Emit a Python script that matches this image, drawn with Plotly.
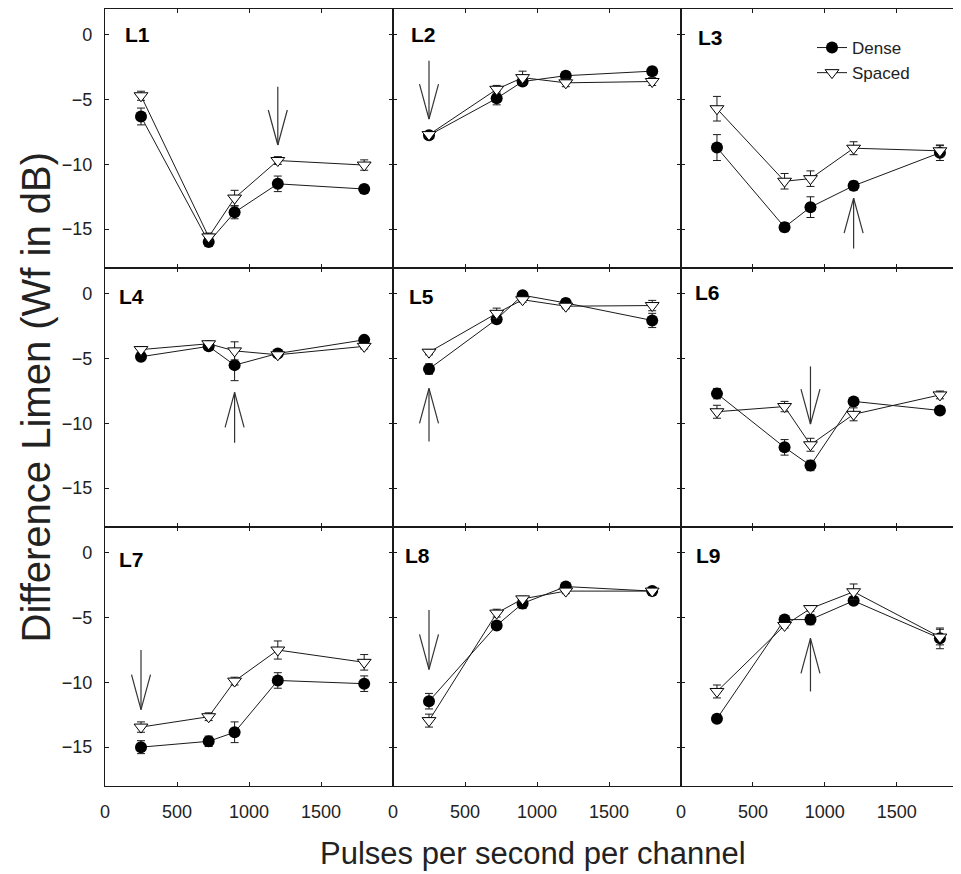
import plotly.graph_objects as go
from plotly.subplots import make_subplots

# ---------------- data ----------------
pps = [250, 720, 900, 1200, 1800]
panel_names = ["L1", "L2", "L3", "L4", "L5", "L6", "L7", "L8", "L9"]

dense_L1 = [-6.3, -16.0, -13.7, -11.5, -11.9]
dense_err_L1 = [0.65, 0.3, 0.5, 0.6, 0.3]
spaced_L1 = [-4.7, -15.6, -12.6, -9.7, -10.05]
spaced_err_L1 = [0.35, 0.3, 0.6, 0.3, 0.4]

dense_L2 = [-7.75, -4.9, -3.6, -3.15, -2.8]
dense_err_L2 = [0.2, 0.5, 0.3, 0.3, 0.3]
spaced_L2 = [-7.7, -4.2, -3.3, -3.7, -3.6]
spaced_err_L2 = [0.2, 0.3, 0.5, 0.3, 0.3]

dense_L3 = [-8.7, -14.85, -13.3, -11.65, -9.1]
dense_err_L3 = [1.0, 0.35, 0.8, 0.35, 0.6]
spaced_L3 = [-5.7, -11.3, -11.1, -8.75, -8.95]
spaced_err_L3 = [0.95, 0.6, 0.6, 0.5, 0.4]

dense_L4 = [-4.85, -4.05, -5.5, -4.6, -3.55]
dense_err_L4 = [0.3, 0.2, 1.2, 0.2, 0.2]
spaced_L4 = [-4.3, -3.85, -4.4, -4.7, -4.05]
spaced_err_L4 = [0.2, 0.2, 0.7, 0.2, 0.2]

dense_L5 = [-5.8, -1.95, -0.1, -0.7, -2.05]
dense_err_L5 = [0.4, 0.3, 0.2, 0.3, 0.55]
spaced_L5 = [-4.5, -1.5, -0.45, -0.95, -0.9]
spaced_err_L5 = [0.2, 0.4, 0.2, 0.2, 0.4]

dense_L6 = [-7.7, -11.85, -13.25, -8.3, -9.0]
dense_err_L6 = [0.4, 0.6, 0.4, 0.2, 0.2]
spaced_L6 = [-9.1, -8.7, -11.65, -9.3, -7.8]
spaced_err_L6 = [0.5, 0.4, 0.5, 0.5, 0.3]

dense_L7 = [-15.0, -14.55, -13.85, -9.85, -10.1]
dense_err_L7 = [0.5, 0.4, 0.8, 0.6, 0.6]
spaced_L7 = [-13.45, -12.65, -9.9, -7.5, -8.45]
spaced_err_L7 = [0.4, 0.3, 0.3, 0.7, 0.6]

dense_L8 = [-11.45, -5.6, -3.9, -2.6, -2.95]
dense_err_L8 = [0.6, 0.2, 0.4, 0.2, 0.2]
spaced_L8 = [-12.95, -4.65, -3.55, -2.95, -2.95]
spaced_err_L8 = [0.5, 0.3, 0.2, 0.2, 0.2]

dense_L9 = [-12.8, -5.15, -5.15, -3.7, -6.6]
dense_err_L9 = [0.3, 0.2, 0.4, 0.2, 0.8]
spaced_L9 = [-10.7, -5.6, -4.3, -3.0, -6.5]
spaced_err_L9 = [0.5, 0.2, 0.2, 0.6, 0.6]

dense_all = [dense_L1, dense_L2, dense_L3, dense_L4, dense_L5, dense_L6, dense_L7, dense_L8, dense_L9]
dense_err_all = [dense_err_L1, dense_err_L2, dense_err_L3, dense_err_L4, dense_err_L5,
                 dense_err_L6, dense_err_L7, dense_err_L8, dense_err_L9]
spaced_all = [spaced_L1, spaced_L2, spaced_L3, spaced_L4, spaced_L5, spaced_L6, spaced_L7, spaced_L8, spaced_L9]
spaced_err_all = [spaced_err_L1, spaced_err_L2, spaced_err_L3, spaced_err_L4, spaced_err_L5,
                  spaced_err_L6, spaced_err_L7, spaced_err_L8, spaced_err_L9]

# arrows: x position, tail value, tip value (per panel)
arrow_x = [1200, 250, 1200, 900, 250, 900, 250, 250, 900]
arrow_tail = [-4.0, -2.0, -16.5, -11.5, -11.4, -5.6, -7.5, -4.4, -10.7]
arrow_tip = [-8.5, -6.5, -12.6, -7.6, -7.3, -10.05, -12.1, -9.0, -6.6]

x_ticks = [0, 500, 1000, 1500]
y_ticks = [0, -5, -10, -15]

# ---------------- layout constants ----------------
# page body has an 8px margin, so the figure is shifted by that amount
W, H = 953, 866
ML, MR, MT, MB = 97, 0, 1, 88
col_px = [288, 288, 280]
x_full = 2000
x_ranges = [[0, x_full], [0, x_full], [0, x_full * col_px[2] / 287.7]]
y_range = [-18, 2]
label_dx = [18, 16, 15, 12, 14, 12, 12, 10, 13]     # px from panel left
label_dy = [25, 25, 28, 28, 28, 24, 32, 28, 28]     # px from panel top
FONT = "Liberation Sans, Arial, Helvetica, sans-serif"
INK = "#1a1a1a"

fig = make_subplots(rows=3, cols=3, horizontal_spacing=0, vertical_spacing=0,
                    column_widths=col_px)

for i in range(9):
    r, c = i // 3 + 1, i % 3 + 1
    show_leg = (i == 0)
    fig.add_trace(go.Scatter(
        x=pps, y=dense_all[i], mode="lines+markers", name="Dense",
        legendgroup="d", showlegend=show_leg,
        line=dict(color=INK, width=1),
        marker=dict(symbol="circle", size=12, color="black", line=dict(color="black", width=0)),
        error_y=dict(type="data", array=dense_err_all[i], visible=True, color=INK, thickness=1, width=4),
        cliponaxis=False,
    ), row=r, col=c)
    fig.add_trace(go.Scatter(
        x=pps, y=spaced_all[i], mode="lines+markers", name="Spaced",
        legendgroup="s", showlegend=show_leg,
        line=dict(color=INK, width=1),
        marker=dict(symbol="triangle-down", size=12, color="white", line=dict(color="black", width=1)),
        error_y=dict(type="data", array=spaced_err_all[i], visible=True, color=INK, thickness=1, width=4),
        cliponaxis=False,
    ), row=r, col=c)

    # arrow drawn as line shapes in data coordinates
    xref = "x" if i == 0 else f"x{i+1}"
    yref = "y" if i == 0 else f"y{i+1}"
    ax, t0, t1 = arrow_x[i], arrow_tail[i], arrow_tip[i]
    direction = 1 if t1 > t0 else -1
    head_dx = 9.5 / 287.7 * x_full
    head_dy = 35 / 12.95
    for (xa, ya, xb, yb) in [(ax, t0, ax, t1),
                             (ax, t1, ax - head_dx, t1 - direction * head_dy),
                             (ax, t1, ax + head_dx, t1 - direction * head_dy)]:
        fig.add_shape(type="line", x0=xa, y0=ya, x1=xb, y1=yb, xref=xref, yref=yref,
                      line=dict(color="#333333", width=1.2))

    # panel label
    fig.add_annotation(text=f"<b>{panel_names[i]}</b>", showarrow=False,
                       xref=f"{xref} domain", yref=f"{yref} domain",
                       x=label_dx[i] / col_px[c - 1], y=1 - label_dy[i] / 259.0,
                       xanchor="left", yanchor="middle",
                       font=dict(family=FONT, size=21, color="black"))

    fig.update_xaxes(range=x_ranges[c - 1], tickvals=x_ticks, ticks="inside", ticklen=4,
                     tickcolor=INK, showline=True, linecolor=INK, linewidth=1.3,
                     mirror="ticks", showgrid=False, zeroline=False,
                     showticklabels=(r == 3), ticklabelstandoff=9,
                     tickfont=dict(family=FONT, size=18, color="#222"),
                     row=r, col=c)
    fig.update_yaxes(range=y_range, tickvals=y_ticks, ticks="inside", ticklen=4,
                     tickcolor=INK, showline=True, linecolor=INK, linewidth=1.3,
                     mirror=("ticks" if c < 3 else False), showgrid=False, zeroline=False,
                     showticklabels=(c == 1), ticklabelstandoff=8,
                     tickfont=dict(family=FONT, size=18, color="#222"),
                     row=r, col=c)

# axis titles
fig.add_annotation(text="Pulses per second per channel", showarrow=False,
                   xref="paper", yref="paper", x=0.5, y=-(853 - 786) / 777.0,
                   xanchor="center", yanchor="middle",
                   font=dict(family=FONT, size=31, color="#222"))
fig.add_annotation(text="Difference Limen (Wf in dB)", showarrow=False, textangle=-90,
                   xref="paper", yref="paper", x=-(105 - 35) / 856.0, y=0.5,
                   xanchor="center", yanchor="middle",
                   font=dict(family=FONT, size=40, color="#222"))

fig.update_layout(
    width=W, height=H,
    margin=dict(l=ML, r=MR, t=MT, b=MB),
    paper_bgcolor="white", plot_bgcolor="white",
    showlegend=True,
    legend=dict(x=(812 - 105) / 856.0, y=1 - (30 - 9) / 777.0, xanchor="left", yanchor="top",
                bgcolor="rgba(0,0,0,0)", borderwidth=0,
                font=dict(family=FONT, size=17, color="#222"),
                itemwidth=30, tracegroupgap=0),
)

fig.write_html("out.html")
